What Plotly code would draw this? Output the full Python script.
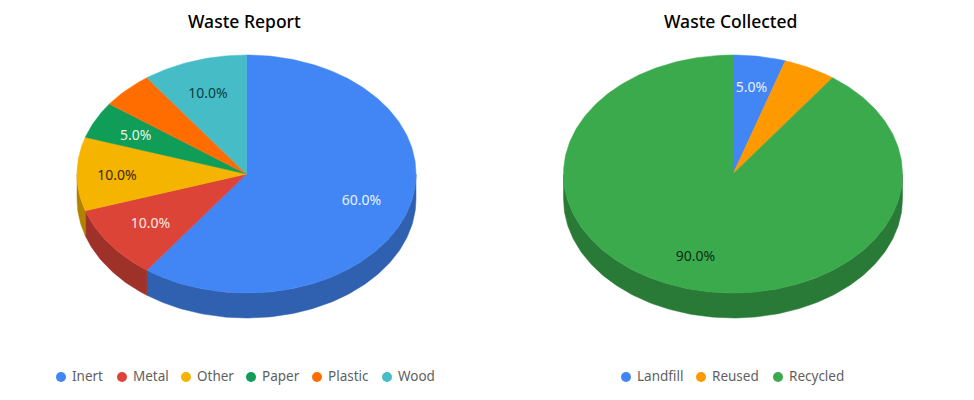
"""
Two tilted pie charts (waste report and waste collected) with flat legends.
"""
import numpy as np
import plotly.graph_objects as go

report_labels = ["Inert", "Metal", "Other", "Paper", "Plastic", "Wood"]
report_values = [60, 10, 10, 5, 5, 10]
report_shown = ["60.0%", "10.0%", "10.0%", "5.0%", "", "10.0%"]

collected_labels = ["Landfill", "Reused", "Recycled"]
collected_values = [5, 5, 90]
collected_shown = ["5.0%", "", "90.0%"]

report_colors = ["#4285F4", "#DB4437", "#F4B400", "#0F9D58", "#FF6D01", "#46BDC6"]
report_text_colors = ["#e8f0fe", "#fce8e6", "#3a2c00", "#e6f4ea", "#000000", "#0b3d42"]
collected_colors = ["#4285F4", "#FF9900", "#3AAA4D"]
collected_text_colors = ["#e8f0fe", "#000000", "#0d2e14"]

# label tweaks in pixels, the original does not sit exactly on the 0.7 radius
report_nudge_x = [2, 0, -11, -5, 0, -2]
report_nudge_y = [2, 2, 2, 0, 0, 0]
collected_nudge_x = [0, 0, -1]
collected_nudge_y = [-3, 0, 4]

# pie geometry in page pixels
RX = 169.5
RY = 119
DEPTH = 25
CY = 174
FONT = "Noto Sans"


def darker(color, factor=0.72):
    r, g, b = (int(color[i:i + 2], 16) for i in (1, 3, 5))
    return f"rgb({r * factor:.0f},{g * factor:.0f},{b * factor:.0f})"


def arc(cx, start, end, drop=0):
    # angles run clockwise from twelve o'clock
    steps = max(2, int(abs(end - start) * 60))
    theta = np.linspace(start, end, steps)
    return cx + RX * np.sin(theta), CY + drop - RY * np.cos(theta)


def add_polygon(fig, xs, ys, color):
    fig.add_trace(
        go.Scatter(
            x=xs,
            y=ys,
            mode="lines",
            fill="toself",
            fillcolor=color,
            line=dict(color=color, width=0.5),
            hoverinfo="skip",
            showlegend=False,
        )
    )


def add_pie(fig, cx, values, shown, colors, text_colors, nudge_x, nudge_y):
    edges = np.cumsum([0] + values) / sum(values) * 2 * np.pi
    # side wall, only the part facing the viewer
    for i, color in enumerate(colors):
        start = max(edges[i], np.pi / 2)
        end = min(edges[i + 1], 3 * np.pi / 2)
        if end <= start:
            continue
        top_x, top_y = arc(cx, start, end)
        low_x, low_y = arc(cx, end, start, DEPTH)
        add_polygon(
            fig,
            np.concatenate([top_x, low_x, top_x[:1]]),
            np.concatenate([top_y, low_y, top_y[:1]]),
            darker(color),
        )
    # top face
    for i, color in enumerate(colors):
        xs, ys = arc(cx, edges[i], edges[i + 1])
        add_polygon(
            fig,
            np.concatenate([[cx], xs, [cx]]),
            np.concatenate([[CY], ys, [CY]]),
            color,
        )
    # percent labels
    mids = (edges[:-1] + edges[1:]) / 2
    fig.add_trace(
        go.Scatter(
            x=cx + 0.7 * RX * np.sin(mids) + np.array(nudge_x),
            y=CY - 0.7 * RY * np.cos(mids) + np.array(nudge_y),
            mode="text",
            text=shown,
            textposition="middle center",
            textfont=dict(family=FONT, size=14, color=text_colors),
            hoverinfo="skip",
            showlegend=False,
        )
    )


def add_key(fig, marker_x, labels, colors):
    fig.add_trace(
        go.Scatter(
            x=marker_x,
            y=[377] * len(labels),
            mode="markers",
            marker=dict(size=10, color=colors),
            hoverinfo="skip",
            showlegend=False,
        )
    )
    fig.add_trace(
        go.Scatter(
            x=np.array(marker_x) + 11,
            y=[378] * len(labels),
            mode="text",
            text=labels,
            textposition="middle right",
            textfont=dict(family=FONT, size=13.5, color="#5f5f5f"),
            hoverinfo="skip",
            showlegend=False,
        )
    )


fig = go.Figure()
add_pie(fig, 246.5, report_values, report_shown, report_colors, report_text_colors,
        report_nudge_x, report_nudge_y)
add_pie(fig, 733, collected_values, collected_shown, collected_colors, collected_text_colors,
        collected_nudge_x, collected_nudge_y)
add_key(fig, [61, 122, 186, 251, 317, 387], report_labels, report_colors)
add_key(fig, [626, 701, 778], collected_labels, collected_colors)

fig.update_layout(
    width=974,
    height=400,
    margin=dict(l=0, r=0, t=0, b=0),
    paper_bgcolor="white",
    plot_bgcolor="white",
    xaxis=dict(range=[0, 974], visible=False, fixedrange=True),
    yaxis=dict(range=[400, 0], visible=False, fixedrange=True),
    annotations=[
        dict(
            x=x,
            y=21,
            xref="x",
            yref="y",
            text=title,
            showarrow=False,
            font=dict(family=FONT, size=17.5, color="#000000", weight=500),
        )
        for x, title in [(244, "Waste Report"), (730, "Waste Collected")]
    ],
)

fig.write_html(
    "out.html",
    config=dict(displayModeBar=False),
    post_script="document.body.style.margin='0';",
)
